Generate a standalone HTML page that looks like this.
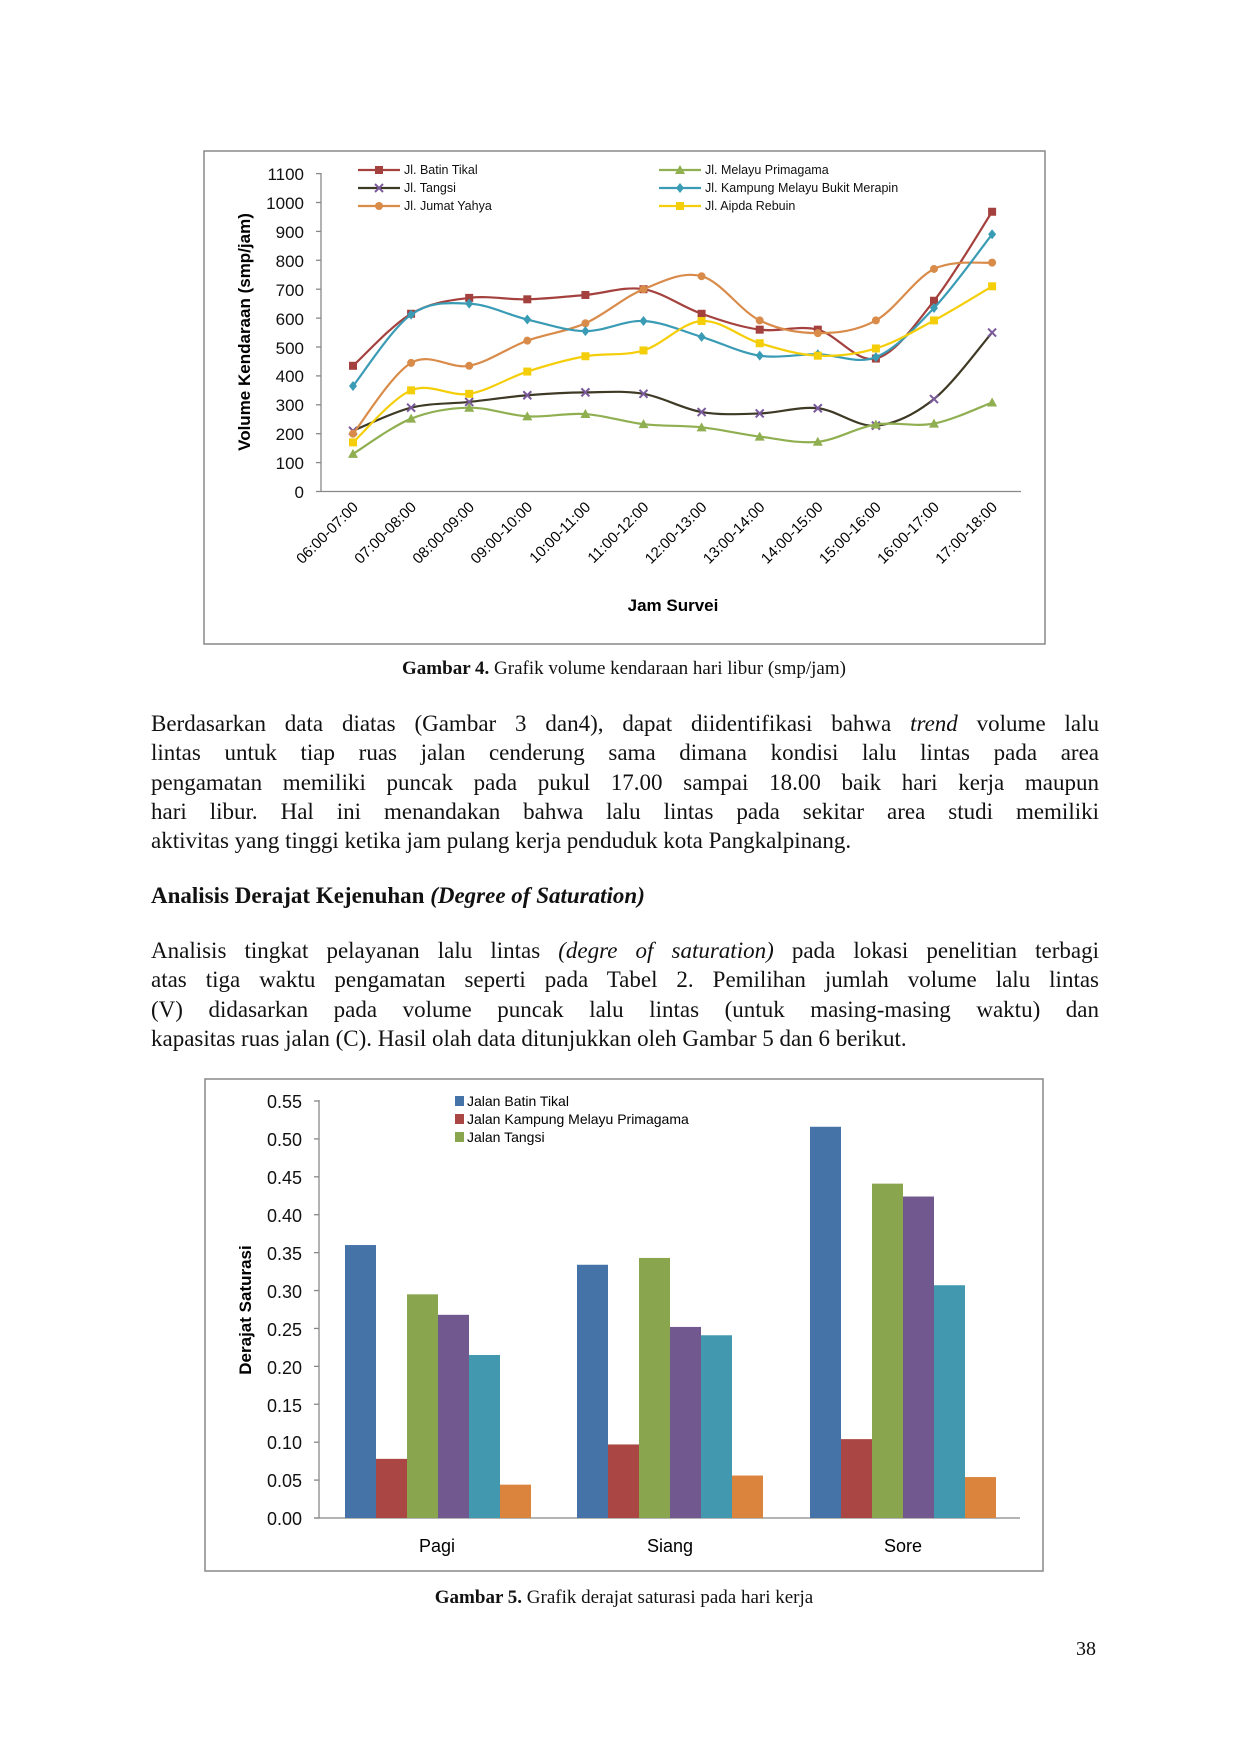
<!DOCTYPE html>
<html><head><meta charset="utf-8">
<style>
body{margin:0;background:#fff;}
#pg{position:relative;width:1240px;height:1754px;background:#fff;overflow:hidden;font-family:"Liberation Serif",serif;color:#111;}
.p{position:absolute;left:151px;width:948px;font-size:23px;line-height:29.3px;}
.p div{text-align:justify;text-align-last:justify;white-space:nowrap;}
.p div.l{text-align-last:left;}
.cap{position:absolute;left:0;width:1248px;text-align:center;font-size:19px;}
</style></head><body><div id="pg">
<svg width="1240" height="1754" style="position:absolute;left:0;top:0" font-family="Liberation Sans, sans-serif">
<rect x="204" y="151" width="841" height="493" fill="none" stroke="#888" stroke-width="1.5"/>
<g id="ax1" stroke="#888" stroke-width="1.3"></g>
<g font-size="17" text-anchor="end" fill="#111">
<text x="304" y="180">1100</text><text x="304" y="209">1000</text><text x="304" y="238">900</text><text x="304" y="267">800</text><text x="304" y="296">700</text><text x="304" y="325">600</text><text x="304" y="354">500</text><text x="304" y="382">400</text><text x="304" y="411">300</text><text x="304" y="440">200</text><text x="304" y="469">100</text><text x="304" y="498">0</text>
</g>
<text transform="translate(250,332) rotate(-90)" text-anchor="middle" font-size="17" font-weight="bold">Volume Kendaraan (smp/jam)</text>
<text x="673" y="611" text-anchor="middle" font-size="17" font-weight="bold">Jam Survei</text>
<g id="xl" font-size="15" text-anchor="end"></g>
<g id="series"></g>
<g font-size="12.5" fill="#111">
<text x="404" y="174">Jl. Batin Tikal</text><text x="404" y="192">Jl. Tangsi</text><text x="404" y="210">Jl. Jumat Yahya</text>
<text x="705" y="174">Jl. Melayu Primagama</text><text x="705" y="192">Jl. Kampung Melayu Bukit Merapin</text><text x="705" y="210">Jl. Aipda Rebuin</text>
</g>
<g id="leg1"></g>

<rect x="205" y="1079" width="838" height="492" fill="none" stroke="#888" stroke-width="1.5"/>
<g id="ax2" stroke="#888" stroke-width="1.3"></g>
<g font-size="18" text-anchor="end" fill="#111">
<text x="302" y="1108">0.55</text><text x="302" y="1146">0.50</text><text x="302" y="1184">0.45</text><text x="302" y="1222">0.40</text><text x="302" y="1260">0.35</text><text x="302" y="1298">0.30</text><text x="302" y="1336">0.25</text><text x="302" y="1374">0.20</text><text x="302" y="1412">0.15</text><text x="302" y="1449">0.10</text><text x="302" y="1487">0.05</text><text x="302" y="1525">0.00</text>
</g>
<text transform="translate(251,1310) rotate(-90)" text-anchor="middle" font-size="17" font-weight="bold">Derajat Saturasi</text>
<g id="bars"></g>
<g font-size="18" text-anchor="middle"><text x="437" y="1552">Pagi</text><text x="670" y="1552">Siang</text><text x="903" y="1552">Sore</text></g>
<rect x="455" y="1096" width="9" height="10" fill="#4572A7"/><rect x="455" y="1114" width="9" height="10" fill="#AA4643"/><rect x="455" y="1132" width="9" height="10" fill="#89A54E"/>
<g font-size="14"><text x="467" y="1106">Jalan Batin Tikal</text><text x="467" y="1124">Jalan Kampung Melayu Primagama</text><text x="467" y="1142">Jalan Tangsi</text></g>
</svg>

<div class="cap" style="top:658px"><b>Gambar 4.</b> Grafik volume kendaraan hari libur (smp/jam)</div>
<div class="p" style="top:709px">
<div>Berdasarkan data diatas (Gambar 3 dan4), dapat diidentifikasi bahwa <i>trend</i> volume lalu</div>
<div>lintas untuk tiap ruas jalan cenderung sama dimana kondisi lalu lintas pada area</div>
<div>pengamatan memiliki puncak pada pukul 17.00 sampai 18.00 baik hari kerja maupun</div>
<div>hari libur. Hal ini menandakan bahwa lalu lintas pada sekitar area studi memiliki</div>
<div class="l">aktivitas yang tinggi ketika jam pulang kerja penduduk kota Pangkalpinang.</div>
</div>
<div class="p" style="top:881px;font-weight:bold"><div class="l">Analisis Derajat Kejenuhan <i>(Degree of Saturation)</i></div></div>
<div class="p" style="top:936px">
<div>Analisis tingkat pelayanan lalu lintas <i>(degre of saturation)</i> pada lokasi penelitian terbagi</div>
<div>atas tiga waktu pengamatan seperti pada Tabel 2. Pemilihan jumlah volume lalu lintas</div>
<div>(V) didasarkan pada volume puncak lalu lintas (untuk masing-masing waktu) dan</div>
<div class="l">kapasitas ruas jalan (C). Hasil olah data ditunjukkan oleh Gambar 5 dan 6 berikut.</div>
</div>
<div class="cap" style="top:1587px"><b>Gambar 5.</b> Grafik derajat saturasi pada hari kerja</div>
<div style="position:absolute;left:1076px;top:1638px;font-size:20px">38</div>

<script>
var NS="http://www.w3.org/2000/svg";
function el(p,t,a){var e=document.createElementNS(NS,t);for(var k in a)e.setAttribute(k,a[k]);p.appendChild(e);return e;}
var ax1=document.getElementById('ax1');
el(ax1,'line',{x1:321,y1:173,x2:321,y2:492});el(ax1,'line',{x1:321,y1:491.5,x2:1021,y2:491.5});
for(var i=0;i<12;i++){var y=491.5-i*100*0.289;el(ax1,'line',{x1:316,y1:y,x2:321,y2:y});}
var labs=["06:00-07:00","07:00-08:00","08:00-09:00","09:00-10:00","10:00-11:00","11:00-12:00","12:00-13:00","13:00-14:00","14:00-15:00","15:00-16:00","16:00-17:00","17:00-18:00"];
var xl=document.getElementById('xl');
for(i=0;i<12;i++){var x=353+58.1*i;var t=el(xl,'text',{transform:'translate('+(x+6)+',508) rotate(-45)'});t.textContent=labs[i];}
var S=[
["#A4403D","sq",[435,615,670,665,680,700,615,560,560,460,660,968]],
["#3F3A26","x",[210,290,310,333,343,338,275,270,288,228,320,550]],
["#D98B4A","c",[200,445,435,522,582,700,745,592,548,592,770,792]],
["#8FAF50","t",[130,252,290,260,268,233,222,190,172,232,235,308]],
["#3A9BB5","d",[365,612,650,595,555,590,535,470,475,465,635,890]],
["#F5CE0A","sq",[170,350,338,415,468,488,590,513,470,495,592,710]]];
var g=document.getElementById('series');
function marker(p,type,x,y,c){
 if(type=="sq")el(p,'rect',{x:x-4,y:y-4,width:8,height:8,fill:c});
 else if(type=="c")el(p,'circle',{cx:x,cy:y,r:4,fill:c});
 else if(type=="t")el(p,'polygon',{points:(x-5)+','+(y+4)+' '+(x+5)+','+(y+4)+' '+x+','+(y-5),fill:c});
 else if(type=="d")el(p,'polygon',{points:x+','+(y-5)+' '+(x+4)+','+y+' '+x+','+(y+5)+' '+(x-4)+','+y,fill:c});
 else {el(p,'path',{d:'M'+(x-4)+' '+(y-4)+'L'+(x+4)+' '+(y+4)+'M'+(x+4)+' '+(y-4)+'L'+(x-4)+' '+(y+4),stroke:'#7a5a9a','stroke-width':2});}
}
S.forEach(function(s){
 var P=s[2].map(function(v,i){return [353+58.1*i,491.5-v*0.289];});
 var d='M'+P[0][0]+' '+P[0][1];
 for(var i=0;i<P.length-1;i++){var p0=P[i>0?i-1:i],p1=P[i],p2=P[i+1],p3=P[i+2<P.length?i+2:i+1];
  d+=' C'+(p1[0]+(p2[0]-p0[0])/6)+' '+(p1[1]+(p2[1]-p0[1])/6)+' '+(p2[0]-(p3[0]-p1[0])/6)+' '+(p2[1]-(p3[1]-p1[1])/6)+' '+p2[0]+' '+p2[1];}
 el(g,'path',{d:d,fill:'none',stroke:s[0],'stroke-width':2.2});
 P.forEach(function(p){marker(g,s[1],p[0],p[1],s[0]);});
});
var lg=document.getElementById('leg1');
var LP=[[358,170],[358,188],[358,206],[659,170],[659,188],[659,206]];
[0,1,2,3,4,5].forEach(function(k,i){var x=LP[i][0],y=LP[i][1];el(lg,'line',{x1:x,y1:y,x2:x+42,y2:y,stroke:S[k][0],'stroke-width':2.2});marker(lg,S[k][1],x+21,y,S[k][0]);});
var ax2=document.getElementById('ax2');
el(ax2,'line',{x1:319,y1:1100,x2:319,y2:1518});el(ax2,'line',{x1:314,y1:1518,x2:1020,y2:1518});
for(i=0;i<12;i++){var y=1518-i*0.05*758.2;el(ax2,'line',{x1:314,y1:y,x2:319,y2:y});}
var C=["#4572A7","#AA4643","#89A54E","#71588F","#4198AF","#DB843D"];
var V=[[.36,.078,.295,.268,.215,.044],[.334,.097,.343,.252,.241,.056],[.516,.104,.441,.424,.307,.054]];
var st=[345,577,810],b=document.getElementById('bars');
V.forEach(function(vs,gi){vs.forEach(function(v,j){var h=v*758.2;el(b,'rect',{x:st[gi]+j*31,y:1518-h,width:31,height:h,fill:C[j]});});});
</script>
</div></body></html>
